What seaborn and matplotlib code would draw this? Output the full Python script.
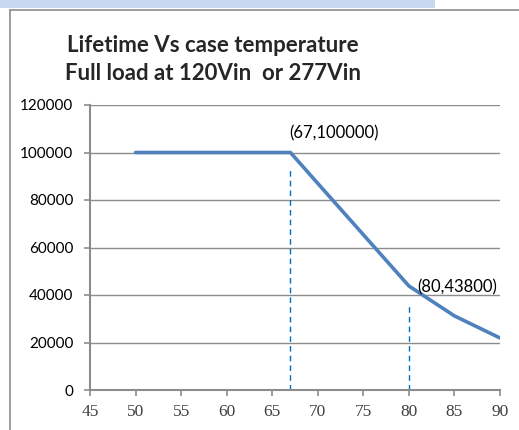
import pandas as pd
import matplotlib.pyplot as plt
import seaborn as sns
from matplotlib.patches import Rectangle
from matplotlib.lines import Line2D

# Lifetime vs case temperature
temperature = [50, 67, 70, 75, 80, 85, 90]
lifetime = [100000, 100000, 87000, 65400, 43800, 31200, 21900]
marked_temps = [67, 80]
marked_life = [100000, 43800]
x_ticks = [45, 50, 55, 60, 65, 70, 75, 80, 85, 90]
y_ticks = [0, 20000, 40000, 60000, 80000, 100000, 120000]

df = pd.DataFrame({"temp": temperature, "life": lifetime})

sns.set_style("white")
plt.rcParams['font.family'] = ['Lato', 'DejaVu Sans']

fig = plt.figure(figsize=(5.19, 4.30), dpi=100)

# page header band and chart frame
fig.patches.append(Rectangle((0, 1 - 8 / 430), 435 / 519, 8 / 430, transform=fig.transFigure,
                             facecolor='#c6d9f1', edgecolor='none'))
fig.lines.append(Line2D([10 / 519, 1], [1 - 10 / 430, 1 - 10 / 430], transform=fig.transFigure,
                        color='#8c8c8c', lw=1.2))
fig.lines.append(Line2D([10 / 519, 10 / 519], [0, 1 - 10 / 430], transform=fig.transFigure,
                        color='#8c8c8c', lw=1.2))

ax = fig.add_axes([90 / 519, 1 - 390 / 430, 410 / 519, 285 / 430])

for yv in y_ticks[1:]:
    ax.axhline(yv, color='#8c8c8c', lw=1.0, zorder=1)

sns.lineplot(data=df, x="temp", y="life", ax=ax, color='#4f81bd', lw=2.6, zorder=3)

# dashed guide lines at the marked points
ax.vlines(marked_temps[0], 0, marked_life[0] - 6000, colors='#0070c0', linestyles=(0, (4, 3)), lw=1.0, zorder=2)
ax.vlines(marked_temps[1], 0, marked_life[1] - 7000, colors='#0070c0', linestyles=(0, (4, 3)), lw=1.0, zorder=2)

ax.annotate("(67,100000)", (marked_temps[0], marked_life[0]), xytext=(-1, 14), textcoords='offset points',
            fontsize=12, ha='left', va='center', color='black', zorder=4)
ax.annotate("(80,43800)", (marked_temps[1], marked_life[1]), xytext=(6, -1), textcoords='offset points',
            fontsize=12, ha='left', va='center', color='black', zorder=4)

ax.set_xlim(45, 90)
ax.set_ylim(0, 120000)
ax.set_xticks(x_ticks)
ax.set_yticks(y_ticks)
ax.set_xticklabels([str(t) for t in x_ticks], family=['Liberation Serif'], fontsize=12.5, color='#404040')
ax.set_yticklabels([str(t) for t in y_ticks], fontsize=11, color='black')
ax.set_xlabel("")
ax.set_ylabel("")

for side in ['top', 'right']:
    ax.spines[side].set_visible(False)
for side in ['left', 'bottom']:
    ax.spines[side].set_color('#8c8c8c')
    ax.spines[side].set_linewidth(1.5)
ax.tick_params(axis='both', direction='out', length=4, width=1.2, color='#8c8c8c', left=True, bottom=True)
ax.tick_params(axis='x', pad=6)
ax.tick_params(axis='y', pad=8)

fig.text(213 / 519, 1 - 45 / 430, "Lifetime Vs case temperature", ha='center', va='center',
         fontsize=16, fontweight='bold')
fig.text(213 / 519, 1 - 73 / 430, "Full load at 120Vin  or 277Vin", ha='center', va='center',
         fontsize=16, fontweight='bold')

fig.savefig("out.png", dpi=100)
